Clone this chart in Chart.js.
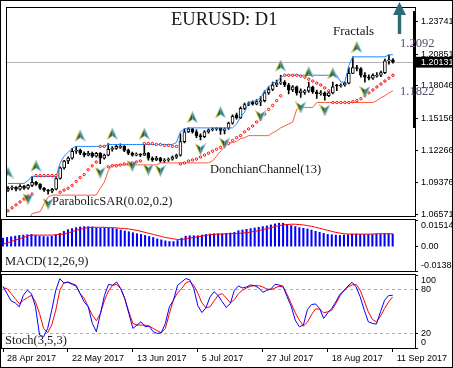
<!DOCTYPE html>
<html><head><meta charset="utf-8">
<script src="https://cdn.jsdelivr.net/npm/chart.js@4.4.0/dist/chart.umd.min.js"></script>
<style>
html,body{margin:0;padding:0;background:#fff;}
#wrap{position:relative;width:453px;height:368px;overflow:hidden;background:#fff;}
#wrap canvas{position:absolute;left:0;top:0;}
.t{position:absolute;font-family:"Liberation Serif","Times New Roman",serif;color:#161616;white-space:nowrap;line-height:1;}
#frame{position:absolute;left:0;top:0;width:451px;height:366px;border:1px solid #000;pointer-events:none;}
</style></head>
<body><div id="wrap">
<canvas id="cMain" width="453" height="368"></canvas>
<canvas id="cMacd" width="453" height="368"></canvas>
<canvas id="cStoch" width="453" height="368"></canvas>
<div id="frame"></div>
<div style="position:absolute;left:413px;top:11px;width:3px;height:117px;background:#000"></div>
<svg style="position:absolute;left:393px;top:2px" width="13" height="32"><polygon points="6.5,0 13,13 0,13" fill="#2d6b74"/><rect x="4.8" y="12" width="3.4" height="20" fill="#2d6b74"/></svg>
<div class="t" style="left:171px;top:10px;font-size:18.5px">EURUSD: D1</div>
<div class="t" style="left:333px;top:24px;font-size:13px">Fractals</div>
<div class="t" style="left:400px;top:37px;font-size:12.5px;color:#574a6b">1.2092</div>
<div class="t" style="left:400px;top:85px;font-size:12.5px;color:#574a6b">1.1822</div>
<div class="t" style="left:210px;top:163px;font-size:12.5px">DonchianChannel(13)</div>
<div class="t" style="left:52px;top:195px;font-size:12.5px">ParabolicSAR(0.02,0.2)</div>
<div class="t" style="left:5px;top:255px;font-size:12.5px">MACD(12,26,9)</div>
<div class="t" style="left:5px;top:334px;font-size:12.5px">Stoch(3,5,3)</div>
</div>
<script>
// ===================== DATA =====================
const xTickIdx = [0, 16, 32, 48, 64, 80, 96];
const xTickLabels = ['28 Apr 2017', '22 May 2017', '13 Jun 2017', '5 Jul 2017', '27 Jul 2017', '18 Aug 2017', '11 Sep 2017'];
const priceTicks = [1.23741, 1.20851, 1.20131, 1.18046, 1.15156, 1.12266, 1.09376, 1.06571];
const lastPrice = 1.20131;

const openP = [1.0872,1.0890,1.0899,1.0881,1.0907,1.0890,1.0916,1.0942,1.0925,1.0890,1.0873,1.0864,1.0881,1.0977,1.1072,1.1133,1.1159,1.1220,1.1228,1.1202,
1.1185,1.1202,1.1176,1.1202,1.1159,1.1185,1.1237,1.1246,1.1255,1.1263,1.1228,1.1202,1.1185,1.1194,1.1185,1.1202,1.1159,1.1142,1.1159,1.1133,
1.1142,1.1150,1.1168,1.1185,1.1306,1.1393,1.1419,1.1393,1.1359,1.1350,1.1393,1.1411,1.1420,1.1425,1.1405,1.1425,1.1470,1.1545,1.1520,1.1602,
1.1636,1.1655,1.1640,1.1662,1.1671,1.1740,1.1770,1.1810,1.1827,1.1836,1.1810,1.1766,1.1793,1.1740,1.1745,1.1758,1.1793,1.1749,1.1732,1.1740,
1.1714,1.1740,1.1810,1.1801,1.1810,1.1827,1.1914,1.1966,1.1957,1.1897,1.1879,1.1871,1.1888,1.1897,1.1920,1.2025,1.2035];
const highP = [1.0905,1.0912,1.0906,1.0922,1.0916,1.0926,1.0994,1.0951,1.0932,1.0898,1.0880,1.0890,1.0985,1.1080,1.1140,1.1170,1.1246,1.1263,1.1240,1.1215,
1.1220,1.1212,1.1210,1.1208,1.1195,1.1289,1.1262,1.1280,1.1285,1.1270,1.1240,1.1212,1.1205,1.1200,1.1289,1.1210,1.1170,1.1175,1.1165,1.1155,
1.1160,1.1180,1.1195,1.1376,1.1419,1.1428,1.1425,1.1410,1.1375,1.1405,1.1420,1.1428,1.1428,1.1428,1.1428,1.1480,1.1545,1.1560,1.1615,1.1650,
1.1660,1.1670,1.1680,1.1706,1.1758,1.1793,1.1836,1.1853,1.1897,1.1850,1.1825,1.1805,1.1800,1.1775,1.1770,1.1836,1.1800,1.1765,1.1760,1.1750,
1.1755,1.1836,1.1815,1.1820,1.1836,1.1966,1.2061,1.1985,1.1965,1.1920,1.1900,1.1910,1.1920,1.1935,1.2040,1.2079,1.2045];
const lowP = [1.0862,1.0876,1.0866,1.0872,1.0880,1.0882,1.0905,1.0915,1.0880,1.0862,1.0838,1.0850,1.0875,1.0970,1.1060,1.1110,1.1150,1.1200,1.1190,1.1170,
1.1178,1.1165,1.1168,1.1110,1.1150,1.1178,1.1220,1.1235,1.1245,1.1215,1.1190,1.1175,1.1178,1.1172,1.1180,1.1140,1.1130,1.1135,1.1120,1.1118,
1.1130,1.1140,1.1155,1.1175,1.1295,1.1385,1.1380,1.1340,1.1320,1.1340,1.1380,1.1400,1.1405,1.1370,1.1375,1.1415,1.1460,1.1505,1.1510,1.1590,
1.1625,1.1630,1.1632,1.1625,1.1660,1.1725,1.1760,1.1795,1.1815,1.1795,1.1730,1.1750,1.1720,1.1700,1.1725,1.1745,1.1735,1.1690,1.1720,1.1675,
1.1705,1.1730,1.1760,1.1790,1.1800,1.1820,1.1910,1.1935,1.1880,1.1836,1.1855,1.1860,1.1880,1.1885,1.1910,1.1995,1.2005];
const closeP = [1.0890,1.0899,1.0881,1.0907,1.0890,1.0916,1.0942,1.0925,1.0890,1.0873,1.0864,1.0881,1.0977,1.1072,1.1133,1.1159,1.1220,1.1228,1.1202,1.1185,
1.1202,1.1176,1.1202,1.1159,1.1185,1.1237,1.1246,1.1263,1.1263,1.1228,1.1202,1.1185,1.1194,1.1185,1.1202,1.1159,1.1142,1.1159,1.1133,1.1142,
1.1150,1.1168,1.1185,1.1306,1.1393,1.1419,1.1393,1.1359,1.1350,1.1393,1.1411,1.1420,1.1425,1.1405,1.1420,1.1470,1.1532,1.1520,1.1602,1.1636,
1.1645,1.1640,1.1662,1.1671,1.1740,1.1770,1.1810,1.1827,1.1836,1.1810,1.1766,1.1793,1.1740,1.1758,1.1758,1.1793,1.1749,1.1732,1.1740,1.1714,
1.1740,1.1793,1.1801,1.1810,1.1827,1.1914,1.1966,1.1957,1.1897,1.1879,1.1871,1.1897,1.1897,1.1920,1.2025,1.2035,1.2013];

const donchianUpper = [1.0933,1.0933,1.0933,1.0933,1.0933,1.0960,1.0994,1.0994,1.0994,1.0994,1.0994,1.0994,1.0994,1.1116,1.1176,1.1211,1.1246,1.1263,1.1263,1.1263,
1.1263,1.1263,1.1263,1.1263,1.1263,1.1280,1.1280,1.1280,1.1280,1.1280,1.1280,1.1280,1.1280,1.1280,1.1280,1.1280,1.1280,1.1280,1.1280,1.1280,
1.1280,1.1280,1.1298,1.1393,1.1419,1.1428,1.1428,1.1428,1.1428,1.1428,1.1428,1.1428,1.1428,1.1428,1.1428,1.1428,1.1428,1.1463,1.1524,1.1567,
1.1654,1.1662,1.1671,1.1697,1.1758,1.1793,1.1827,1.1836,1.1879,1.1897,1.1897,1.1897,1.1897,1.1897,1.1897,1.1897,1.1897,1.1897,1.1897,1.1897,
1.1897,1.1897,1.1897,1.1836,1.1836,1.1984,1.2061,1.2061,1.2061,1.2061,1.2061,1.2061,1.2061,1.2061,1.2061,1.2079,1.2079];
const donchianLower = [1.0600,1.0600,1.0600,1.0600,1.0600,1.0600,1.0664,1.0673,1.0681,1.0751,1.0812,1.0829,1.0829,1.0829,1.0829,1.0829,1.0829,1.0829,1.0829,1.0829,
1.0829,1.0829,1.0829,1.0890,1.0942,1.1046,1.1098,1.1098,1.1098,1.1098,1.1098,1.1098,1.1098,1.1098,1.1098,1.1098,1.1098,1.1098,1.1116,1.1116,
1.1116,1.1116,1.1116,1.1116,1.1116,1.1116,1.1116,1.1116,1.1116,1.1116,1.1116,1.1133,1.1176,1.1220,1.1263,1.1289,1.1298,1.1306,1.1332,1.1341,
1.1359,1.1359,1.1359,1.1359,1.1359,1.1359,1.1384,1.1402,1.1428,1.1445,1.1463,1.1480,1.1593,1.1610,1.1610,1.1610,1.1610,1.1654,1.1654,1.1654,
1.1654,1.1654,1.1654,1.1654,1.1654,1.1654,1.1654,1.1654,1.1654,1.1654,1.1654,1.1654,1.1671,1.1697,1.1714,1.1740,1.1758];
const parabolicSar = [1.0690,1.0716,1.0742,1.0768,1.0794,1.0821,1.0838,1.1003,1.1003,1.1003,1.1003,1.1003,1.1003,1.0855,1.0873,1.0890,1.0916,1.0951,1.0985,1.1012,
1.1055,1.1090,1.1124,1.1263,1.1263,1.1081,1.1090,1.1090,1.1098,1.1107,1.1107,1.1116,1.1124,1.1133,1.1289,1.1289,1.1289,1.1280,1.1280,1.1272,
1.1272,1.1263,1.1263,1.1107,1.1116,1.1133,1.1142,1.1150,1.1168,1.1185,1.1202,1.1220,1.1237,1.1254,1.1272,1.1289,1.1315,1.1341,1.1359,1.1393,
1.1419,1.1445,1.1480,1.1506,1.1550,1.1593,1.1628,1.1671,1.1714,1.1897,1.1897,1.1897,1.1897,1.1888,1.1879,1.1862,1.1845,1.1827,1.1810,1.1784,
1.1758,1.1654,1.1654,1.1654,1.1654,1.1654,1.1662,1.1671,1.1688,1.1714,1.1740,1.1766,1.1793,1.1819,1.1845,1.1871,1.1897];

const fractalUpIdx = [0, 7, 18, 26, 34, 46, 53, 68, 75, 81, 87];
const fractalUpVal = [1.1029, 1.1090, 1.1359, 1.1376, 1.1376, 1.1523, 1.1567, 1.1983, 1.1923, 1.1914, 1.2148];
const fractalDnIdx = [5, 10, 23, 31, 35, 38, 48, 54, 63, 73, 79, 89];
const fractalDnVal = [1.0794, 1.0751, 1.1029, 1.1090, 1.1055, 1.1046, 1.1237, 1.1289, 1.1532, 1.1610, 1.1584, 1.1749];

const macdHist = [0.00483,0.00521,0.00560,0.00598,0.00637,0.00656,0.00676,0.00695,0.00637,0.00598,0.00579,0.00560,0.00598,0.00676,0.00753,0.00869,0.00965,0.01023,0.01081,0.01119,
0.01139,0.01139,0.01119,0.01062,0.01042,0.01062,0.01062,0.01042,0.01004,0.00946,0.00888,0.00849,0.00791,0.00733,0.00695,0.00637,0.00579,0.00521,0.00444,0.00386,
0.00328,0.00290,0.00290,0.00347,0.00483,0.00598,0.00618,0.00618,0.00618,0.00656,0.00695,0.00714,0.00733,0.00733,0.00733,0.00753,0.00772,0.00811,0.00907,0.00946,
0.00984,0.01023,0.01062,0.01100,0.01139,0.01177,0.01235,0.01293,0.01332,0.01332,0.01255,0.01197,0.01139,0.01081,0.01042,0.01004,0.00946,0.00869,0.00811,0.00753,
0.00695,0.00676,0.00656,0.00637,0.00656,0.00676,0.00714,0.00714,0.00695,0.00695,0.00695,0.00695,0.00714,0.00714,0.00733,0.00733,0.00714];
const macdSignal = [0.00135,0.00212,0.00290,0.00367,0.00444,0.00521,0.00598,0.00656,0.00656,0.00656,0.00656,0.00656,0.00656,0.00676,0.00695,0.00714,0.00772,0.00849,0.00926,0.00984,
0.01042,0.01081,0.01100,0.01100,0.01100,0.01100,0.01081,0.01081,0.01062,0.01042,0.01023,0.01004,0.00965,0.00926,0.00869,0.00811,0.00753,0.00695,0.00637,0.00579,
0.00521,0.00483,0.00444,0.00405,0.00405,0.00444,0.00483,0.00521,0.00560,0.00598,0.00637,0.00676,0.00695,0.00714,0.00714,0.00733,0.00733,0.00733,0.00753,0.00772,
0.00791,0.00830,0.00869,0.00907,0.00965,0.01023,0.01081,0.01139,0.01197,0.01235,0.01255,0.01274,0.01274,0.01255,0.01235,0.01197,0.01158,0.01100,0.01042,0.00984,
0.00926,0.00869,0.00811,0.00772,0.00733,0.00714,0.00714,0.00714,0.00714,0.00714,0.00714,0.00714,0.00733,0.00733,0.00733,0.00733,0.00733];
const macdTicks = [0.01514, 0, -0.01384];
const macdTickLabels = ['0.01514', '0.00', '-0.01384'];

const stochK = [84.5,74.5,64.5,61.8,56.4,72.2,79.1,74.5,56.4,17.8,15.5,26.9,51.8,79.1,95,89,90.4,88.1,85.9,74.5,
63.2,56.4,33.7,22.3,47.3,72.2,87.2,85.9,90.4,81.3,67.7,47.3,26.9,31.4,35.9,29.1,30,22.3,20,20.9,
33.7,56.4,65.4,85.9,90.4,95,93.6,81.3,58,48.6,55,70,77.2,71.8,63.6,55.5,60.9,79.1,85,82.2,
83.6,86.3,85.4,82.2,76.3,79.1,80.9,87.2,86.3,84.5,70,57.3,38.2,29.1,31.4,52.7,59.5,60.4,54.1,40.5,
48.2,54.1,63.2,73.6,78.2,85,90,83.6,70,51.8,35.9,33.7,32.8,49.6,65.4,71.8,72.3];
const stochD = [82.7,81.3,74.5,67.7,60.9,65.4,69,72.2,63.2,47.3,26.9,21,31.4,51.8,79.1,89.5,90,87.2,84.5,74.5,
68.2,56.4,45,37.3,47.3,65.4,78.2,85.9,87.2,81.3,67.7,49.6,33.7,31.4,31.4,31.4,30,26.9,23.7,21,
26.9,47.3,66.3,75.4,81.3,89,91.3,85.9,75,61.8,55,56.4,64.5,72.2,74.5,68.6,61.8,66.3,74.5,79.1,
82.2,84.5,85.4,85.4,83.6,80.9,80,82.2,84.5,83.6,73.6,60.9,48.2,38.2,30,35.5,45.5,53.6,53.2,48.2,
49.6,51.8,60.9,71.3,79.1,83.6,86.3,87.2,79.1,64.5,49.6,39.1,35.9,43.6,54.1,63.2,70];
const stochTicks = [100, 80, 20, 0];

// ===================== RENDER =====================
const AXIS_FONT = {family: 'Liberation Sans', size: 9};
const idx = closeP.map((_, i) => i);
const pts = arr => arr.map((v, i) => ({x: i, y: v}));

function makeArrow(up) {
  const c = document.createElement('canvas');
  c.width = 11; c.height = 12;
  const g = c.getContext('2d');
  if (!up) { g.translate(0, 12); g.scale(1, -1); }
  g.lineWidth = 1;
  // left half: dark green, yellow outer edge
  g.beginPath(); g.moveTo(5.5, 0.5); g.lineTo(5.5, 8); g.lineTo(0.5, 11.5); g.closePath();
  g.fillStyle = '#1b5e20'; g.fill();
  g.beginPath(); g.moveTo(5.5, 0.5); g.lineTo(0.5, 11.5); g.strokeStyle = '#d8cc3c'; g.stroke();
  // right half: teal, light-blue outer edge
  g.beginPath(); g.moveTo(5.5, 0.5); g.lineTo(10.5, 11.5); g.lineTo(5.5, 8); g.closePath();
  g.fillStyle = '#2e7d7a'; g.fill();
  g.beginPath(); g.moveTo(5.5, 0.5); g.lineTo(10.5, 11.5); g.strokeStyle = '#9cc8de'; g.stroke();
  return c;
}
const upArrow = makeArrow(true), dnArrow = makeArrow(false);

const framePlugin = {
  id: 'frame',
  afterDraw(chart) {
    const {ctx, chartArea: a} = chart;
    const L = Math.round(a.left) - 1, T = Math.round(a.top) - 1, R = Math.round(a.right), B = Math.round(a.bottom);
    ctx.save(); ctx.fillStyle = '#000';
    ctx.fillRect(L, T, R - L + 1, 1);
    ctx.fillRect(L, B, R - L + 1, 1);
    ctx.fillRect(L, T, 1, B - T + 1);
    ctx.fillRect(R, T, 1, B - T + 1);
    ctx.restore();
  }
};

const xHidden = {type: 'linear', min: -0.25, max: 101.5, display: false, offset: false, grid: {offset: false}};
function yRight(min, max, tickVals, cb, extra) {
  return Object.assign({
    type: 'linear', position: 'right', min, max, offset: false,
    afterBuildTicks: s => { s.ticks = tickVals.map(v => ({value: v})); },
    afterFit: s => { s.width = 38; },
    border: {display: false},
    grid: {drawOnChartArea: false, drawTicks: true, tickLength: 3, tickColor: '#000', color: 'rgba(0,0,0,0)'},
    ticks: {autoSkip: false, padding: 3, color: '#000', font: AXIS_FONT, callback: cb}
  }, extra || {});
}
const common = {
  responsive: false, animation: false, devicePixelRatio: 1, events: [],
  plugins: {legend: {display: false}, tooltip: {enabled: false}}
};

// ---- Main price panel ----
new Chart(document.getElementById('cMain'), {
  type: 'bar',
  data: {datasets: [
    {type: 'bar', data: idx.map(i => ({x: i, y: [lowP[i], highP[i]]})), backgroundColor: '#000', barThickness: 1, grouped: false, order: 10},
    {type: 'bar', data: idx.map(i => ({x: i, y: [openP[i], closeP[i]]})),
      backgroundColor: idx.map(i => closeP[i] >= openP[i] ? '#fff' : '#000'),
      borderColor: '#000', borderWidth: 1, borderSkipped: false, barThickness: 3, minBarLength: 1, grouped: false, order: 9},
    {type: 'line', data: pts(donchianUpper), borderColor: '#1e88ff', borderWidth: 1, pointRadius: 0, tension: 0, order: 7},
    {type: 'line', data: pts(donchianLower), borderColor: '#ff5a3a', borderWidth: 1, pointRadius: 0, tension: 0, order: 7},
    {type: 'line', data: pts(parabolicSar), showLine: false, pointStyle: 'circle', pointRadius: 1.2,
      pointBorderColor: '#ff0000', pointBackgroundColor: '#fff', pointBorderWidth: 1, order: 5},
    {type: 'line', data: fractalUpIdx.map((x, k) => ({x, y: fractalUpVal[k]})), showLine: false, pointStyle: upArrow, pointRadius: 6, order: 1},
    {type: 'line', data: fractalDnIdx.map((x, k) => ({x, y: fractalDnVal[k]})), showLine: false, pointStyle: dnArrow, pointRadius: 6, order: 1}
  ]},
  options: Object.assign({}, common, {
    layout: {padding: {left: 2, right: 0, top: 2, bottom: 152}},
    scales: {
      x: xHidden,
      y: yRight(1.06429, 1.24925, priceTicks, v => v.toFixed(5), {
        grid: {drawOnChartArea: true, drawTicks: true, tickLength: 3, tickColor: '#000',
          color: c => (c.tick && c.tick.value === lastPrice) ? '#b4b4b4' : 'rgba(0,0,0,0)'},
        ticks: {autoSkip: false, padding: 3, font: AXIS_FONT,
          color: c => (c.tick && c.tick.value === lastPrice) ? '#fff' : '#000',
          showLabelBackdrop: c => !!(c.tick && c.tick.value === lastPrice),
          backdropColor: '#000', backdropPadding: {top: 0, bottom: 0, left: 5, right: 14},
          callback: v => v.toFixed(5)}
      })
    }
  }),
  plugins: [framePlugin]
});

// ---- MACD panel ----
new Chart(document.getElementById('cMacd'), {
  type: 'bar',
  data: {datasets: [
    {type: 'bar', data: pts(macdHist), backgroundColor: '#0000ff', barThickness: 1.4, grouped: false, order: 5},
    {type: 'line', data: pts(macdSignal), borderColor: '#ff0000', borderWidth: 1, pointRadius: 0, tension: 0, order: 1}
  ]},
  options: Object.assign({}, common, {
    layout: {padding: {left: 2, right: 0, top: 220, bottom: 97}},
    scales: {
      x: xHidden,
      y: yRight(-0.01384, 0.01514, macdTicks, (v, i) => {
        const lab = macdTickLabels[i];
        if (i === 0) return ['', lab];
        if (i === macdTicks.length - 1) return [lab, ''];
        return lab;
      })
    }
  }),
  plugins: [framePlugin]
});

// ---- Stochastic panel (with date axis) ----
new Chart(document.getElementById('cStoch'), {
  type: 'line',
  data: {datasets: [
    {data: pts(stochK), borderColor: '#0000ff', borderWidth: 1, pointRadius: 0, tension: 0},
    {data: pts(stochD), borderColor: '#ff0000', borderWidth: 1, pointRadius: 0, tension: 0}
  ]},
  options: Object.assign({}, common, {
    layout: {padding: {left: 2, right: 0, top: 275, bottom: 2}},
    scales: {
      x: {type: 'linear', min: -0.25, max: 101.5, position: 'bottom', offset: false,
        afterBuildTicks: s => { s.ticks = xTickIdx.map(v => ({value: v})); },
        afterFit: s => { s.height = 18; s.paddingLeft = 0; s.paddingRight = 0; },
        border: {display: false},
        grid: {drawOnChartArea: false, drawTicks: true, tickLength: 4, tickColor: '#000', offset: false},
        ticks: {autoSkip: false, maxRotation: 0, minRotation: 0, align: 'start', labelOffset: 4, padding: 1,
          color: '#000', font: AXIS_FONT, callback: (v, i) => xTickLabels[i]}
      },
      y: yRight(0, 100, stochTicks, (v, i) => {
        if (i === 0) return ['', String(v)];
        if (i === stochTicks.length - 1) return [String(v), ''];
        return String(v);
      }, {
        border: {display: false, dash: [3, 3]},
        grid: {drawOnChartArea: true, drawTicks: true, tickLength: 3, tickColor: '#000',
          color: c => (c.tick && (c.tick.value === 80 || c.tick.value === 20)) ? '#b0b0b0' : 'rgba(0,0,0,0)'}
      })
    }
  }),
  plugins: [framePlugin]
});
</script>
</body></html>
